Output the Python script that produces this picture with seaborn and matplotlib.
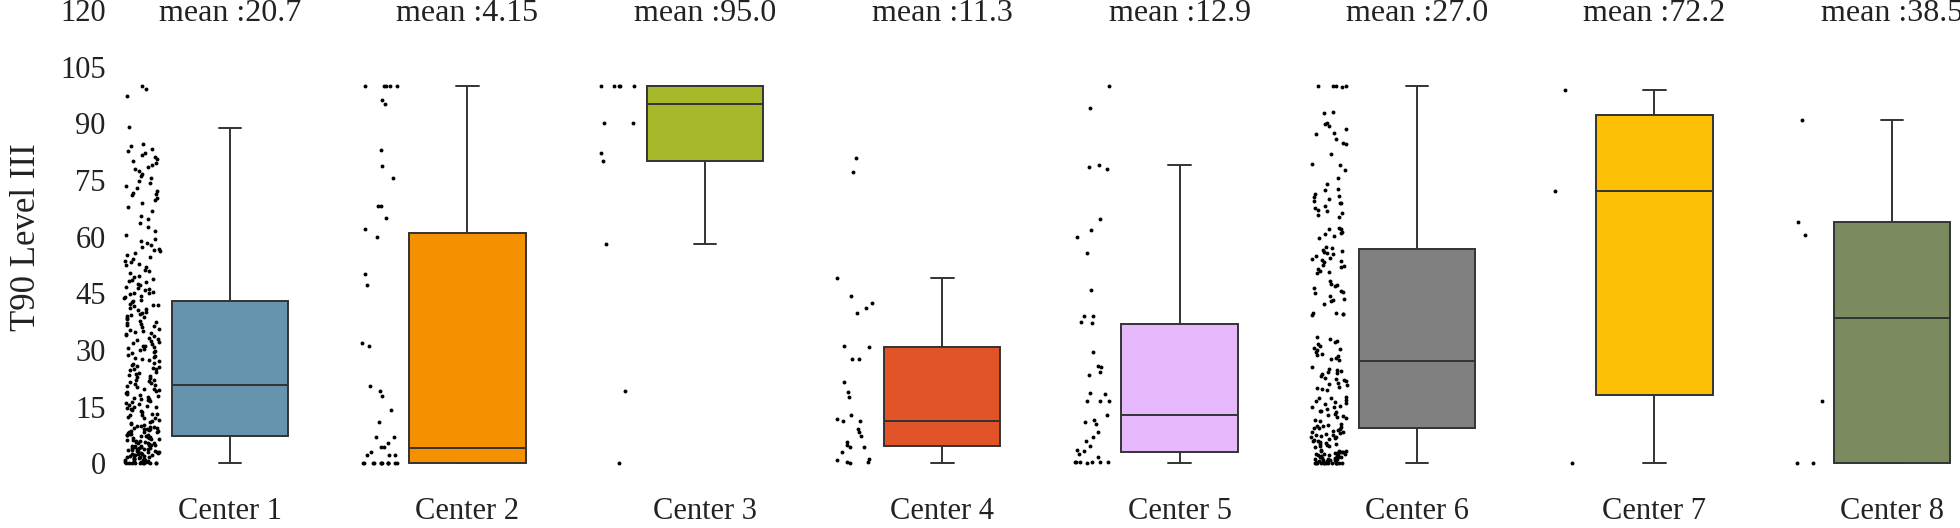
import numpy as np
import pandas as pd
import matplotlib
matplotlib.use('Agg')
import matplotlib.pyplot as plt
import seaborn as sns

centers = ['Center 1', 'Center 2', 'Center 3', 'Center 4',
           'Center 5', 'Center 6', 'Center 7', 'Center 8']
colors = ['#6694ae', '#f59100', '#a7b92b', '#e05428',
          '#e8b8fc', '#808080', '#fdc006', '#7b8a5f']

# box summary: lower whisker, q1, median, q3, upper whisker
box_lo = [0, 0, 58.0, 0, 0, 0, 0, 0]
box_q1 = [7.3, 0, 80.0, 4.6, 3.1, 9.4, 18.0, 0]
box_med = [20.7, 4.15, 95.0, 11.3, 12.9, 27.0, 72.2, 38.5]
box_q3 = [43.1, 60.9, 100, 30.8, 37.0, 56.7, 92.1, 64.0]
box_hi = [88.7, 100, 100, 49.0, 79.0, 100, 98.8, 90.9]

# individual observations (strip to the left of each box)
pts_c1 = [
    0, 0, 0, 0, 0, 0, 0, 0, 0.1, 0.2, 0.3, 0.3, 0.5, 0.6, 0.7, 0.9, 1.0, 1.1, 1.2, 1.4,
    1.5, 1.6, 1.8, 1.9, 2.0, 2.2, 2.3, 2.4, 2.6, 2.7, 2.9, 3.0, 3.1, 3.3, 3.4, 3.5, 3.7,
    3.8, 3.9, 4.0, 4.2, 4.3, 4.4, 4.6, 4.7, 4.9, 0.4, 1.3, 2.1, 2.8, 3.6, 4.5, 0.8, 1.7,
    2.5, 3.2, 4.1, 4.8,
    5.0, 5.1, 5.3, 5.4, 5.6, 5.7, 5.9, 6.0, 6.1, 6.3, 6.4, 6.6, 6.7, 6.9, 7.0, 7.2, 7.3,
    7.5, 7.6, 7.8, 7.9, 8.1, 8.2, 8.4, 8.5, 8.7, 8.8, 9.0, 9.1, 9.3, 9.4, 9.6, 9.7, 9.9,
    5.5, 6.5, 7.4, 8.3, 9.2, 9.8,
    10.2, 10.5, 10.8, 11.0, 11.3, 11.6, 11.9, 12.1, 12.4, 12.7, 13.0, 13.2, 13.5, 13.8,
    14.1, 14.3, 14.6, 14.9, 15.2, 15.4, 15.7, 16.0, 16.3, 16.5, 16.8, 17.1, 17.4, 17.6,
    17.9, 18.2, 18.5, 18.7, 19.0, 19.3, 19.6, 19.8, 12.9, 15.0, 17.0, 19.1,
    20.1, 20.4, 20.7, 21.0, 21.3, 21.6, 21.9, 22.2, 22.5, 22.8, 23.1, 23.4, 23.7, 24.0,
    24.3, 24.6, 24.9, 25.2, 25.5, 25.8, 26.1, 26.4, 26.7, 27.0, 27.3, 27.6, 27.9, 28.2,
    28.5, 28.8, 29.1, 29.4, 29.7, 22.0, 25.0,
    30.0, 30.3, 30.6, 30.9, 31.2, 31.5, 31.8, 32.1, 32.4, 32.7, 33.0, 33.3, 33.6, 33.9,
    34.2, 34.5, 34.8, 35.1, 35.4, 35.7, 36.0, 36.3, 36.6, 36.9, 37.2, 37.5, 37.8, 38.1,
    38.4, 38.7, 39.0, 39.3, 39.6, 39.9, 31.0,
    40.2, 40.5, 40.9, 41.2, 41.6, 41.9, 42.3, 42.6, 43.0, 43.3, 43.7, 44.0, 44.4, 44.7,
    45.1, 45.4, 45.8, 46.1, 46.5, 46.8, 47.2, 47.5, 47.9, 48.2, 48.6, 48.9, 49.3, 49.6,
    42.0, 45.0,
    50.3, 50.8, 51.3, 51.9, 52.4, 52.9, 53.5, 54.0, 54.5, 55.1, 55.6, 56.1, 56.7, 57.2,
    57.7, 58.3, 58.8, 59.3, 53.2, 56.4,
    60.4, 61.5, 62.6, 63.5, 64.7, 65.6, 66.8, 67.9, 68.8, 69.7,
    70.3, 70.9, 71.6, 72.2, 72.9, 73.5, 74.1, 74.8, 75.4, 76.0, 76.7, 77.3, 77.9, 71.2,
    78.4, 78.9, 79.5, 80.0, 80.6, 81.1, 81.7, 82.2, 82.8, 83.3, 83.9, 84.5,
    89.0, 97.2, 99.0, 100,
]
pts_c2 = [100, 100, 100, 100, 100, 96.1, 95.0, 82.9, 78.8, 75.6, 68.0, 68.2, 65.0,
          61.9, 60.0, 50.0, 47.1, 31.8, 31.1, 20.5, 19.2, 17.9, 14.1, 11.0, 7.0, 7.0,
          5.5, 4.4, 4.4, 3.1, 2.2, 2.2, 2.2, 0, 0, 0, 0, 0, 0, 0, 0, 0, 0, 0, 0]
pts_c3 = [100, 100, 100, 100, 100, 90.0, 90.0, 82.1, 80.0, 58.0, 19.1, 0]
pts_c4 = [80.7, 77.0, 49.0, 44.3, 42.4, 41.2, 39.8, 31.1, 30.8, 27.7, 27.6, 21.6, 18.9,
          17.6, 12.7, 11.7, 11.3, 11.2, 9.1, 8.3, 7.2, 5.7, 5.0, 4.4, 4.4, 2.9, 1.3,
          0.9, 0.4, 0.4, 0.2]
pts_c5 = [100, 94.0, 79.0, 78.5, 77.8, 64.6, 61.7, 60.0, 55.7, 45.8, 39.1, 39.0, 37.5,
          37.1, 29.5, 25.8, 25.5, 24.2, 23.3, 18.6, 18.5, 16.5, 16.4, 16.6, 12.8, 11.4,
          11.0, 10.4, 8.4, 7.0, 6.0, 4.7, 3.5, 3.4, 2.5, 1.8, 0.4, 0.4, 0.3, 0.4, 0.2,
          0.4, 0.3]
pts_c6 = [
    100, 100, 100, 99.6, 100, 92.8, 93.0, 90.0, 89.3, 89.8, 88.5, 87.5, 87.2, 85.8, 84.6,
    84.9, 81.9, 79.2, 79.0, 77.6, 75.6, 74.0, 72.3, 72.6,
    71.4, 70.8, 70.1, 69.5, 68.9, 68.2, 67.6, 67.0, 66.3, 65.8, 65.2, 69.0, 70.5, 66.8,
    62.4, 61.9, 61.3, 60.6, 60.2, 59.7, 61.0, 62.0,
    57.0, 56.5, 56.0, 55.4, 54.9, 54.3, 53.8, 53.2, 52.6, 52.1, 51.5, 51.0, 50.4, 54.0,
    55.8, 53.5, 52.3, 50.7, 57.3, 56.2,
    48.3, 47.6, 47.0, 46.3, 45.6, 45.0, 44.3, 43.6, 43.0, 42.3, 47.3, 45.3, 43.3,
    39.9, 39.6, 39.3, 39.7, 39.5,
    33.4, 32.8, 32.3, 31.7, 31.2, 30.6, 30.1, 29.5, 29.0, 28.4, 27.9, 27.3, 32.0, 30.4,
    28.7, 27.6,
    25.5, 25.0, 24.5, 24.1, 23.6, 23.1, 22.7, 22.2, 21.7, 21.3, 20.8, 20.3, 19.8, 19.3,
    24.8, 23.9, 22.4, 21.0, 20.0,
    17.6, 17.2, 16.8, 16.4, 16.0, 15.6, 15.2, 14.8, 14.4, 14.0, 13.6, 13.2, 12.7, 12.3,
    11.9, 11.5, 17.4, 16.2, 15.0, 13.9, 12.5, 11.2,
    10.5, 10.2, 9.9, 9.6, 9.3, 9.0, 8.7, 8.4, 8.1, 7.8, 7.5, 7.2, 6.9, 6.6, 6.3, 6.0,
    5.7, 5.4, 5.1, 4.8, 4.5, 4.3, 10.0, 9.4, 8.8, 8.2, 7.6, 7.0, 6.4, 5.8, 5.2, 4.6,
    3.5, 3.4, 3.2, 3.1, 2.9, 2.8, 2.6, 2.5, 2.3, 2.2, 2.0, 1.9, 1.7, 1.6, 1.4, 1.3, 1.1,
    1.0, 0.8, 0.7, 0.5, 0.4, 0.2, 0.1, 0, 0, 0, 0, 0, 0, 0, 0, 0.6, 1.5, 2.4,
    3.3, 3.0, 2.7, 2.1, 1.8, 1.2, 0.9, 0.3, 0, 0, 0, 0,
]
pts_c7 = [98.8, 72.2, 0]
pts_c8 = [90.9, 64.0, 60.4, 16.4, 0, 0]
points = [pts_c1, pts_c2, pts_c3, pts_c4, pts_c5, pts_c6, pts_c7, pts_c8]

strip_shift = -0.37

box_rows = []
pt_rows = []
for i, name in enumerate(centers):
    for v in (box_lo[i], box_q1[i], box_med[i], box_q3[i], box_hi[i]):
        box_rows.append({'pos': i, 'center': name, 'value': v})
    for v in points[i]:
        pt_rows.append({'pos': i + strip_shift, 'center': name, 'value': v})
box_df = pd.DataFrame(box_rows)
pt_df = pd.DataFrame(pt_rows)

sns.set_theme(style='white')
plt.rcParams['font.family'] = ['Liberation Serif', 'DejaVu Serif']
np.random.seed(3)

fig = plt.figure(figsize=(19.6, 5.28), dpi=100)
ax = fig.add_axes([0.0568, 0.108, 0.9432, 0.8875])

sns.boxplot(data=box_df, x='pos', y='value', hue='center', palette=colors,
            native_scale=True, width=0.49, saturation=1, linecolor='#333333',
            linewidth=1.4, showfliers=False, legend=False, capwidths=0.095, ax=ax)
sns.stripplot(data=pt_df, x='pos', y='value', native_scale=True, color='black',
              size=2.8, jitter=0.075, linewidth=0, ax=ax)

for i, med in enumerate(box_med):
    ax.text(i, 120, 'mean :{:#.3g}'.format(med), ha='center', va='center_baseline',
            fontsize=23, color='#222222', clip_on=False)

ax.set_xlim(-0.5, 7.287)
ax.set_ylim(-2, 122)
ax.set_yticks(np.arange(0, 121, 15))
ax.set_xticks(range(len(centers)))
ax.set_xticklabels(centers)
ax.set_xlabel('')
ax.set_ylabel('T90 Level III', fontsize=25, color='#222222')
ax.yaxis.set_label_coords(-0.037, 0.5)
ax.tick_params(axis='both', length=0, labelsize=22, labelcolor='#222222')
ax.tick_params(axis='x', pad=19)
ax.tick_params(axis='y', pad=4)
sns.despine(ax=ax, left=True, bottom=True)

fig.savefig('out.png', dpi=100)
